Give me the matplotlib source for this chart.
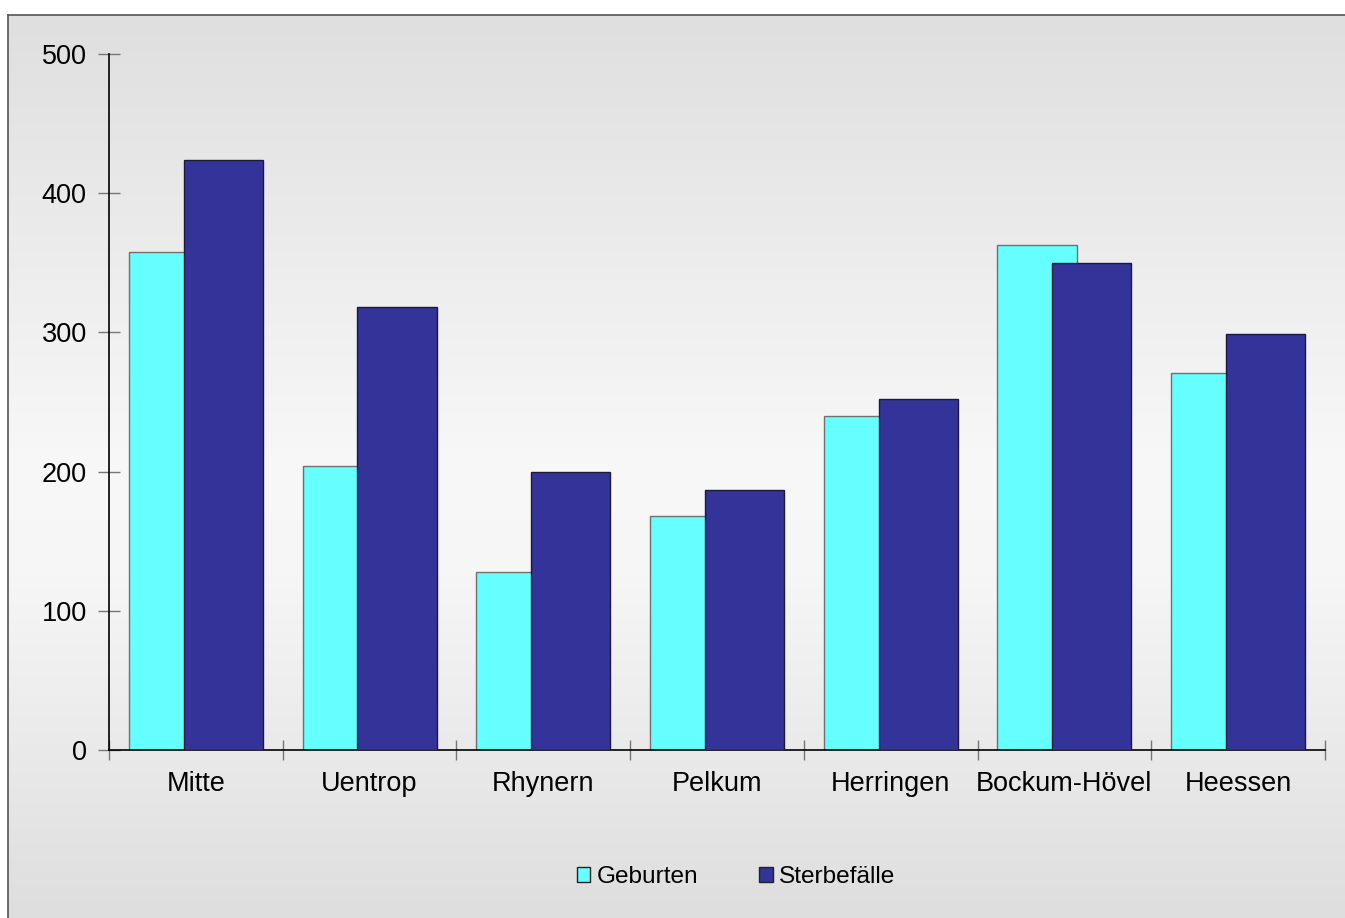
import numpy as np
import matplotlib
matplotlib.use("Agg")
import matplotlib.pyplot as plt
from matplotlib.colors import LinearSegmentedColormap
from matplotlib.lines import Line2D

categories = ["Mitte", "Uentrop", "Rhynern", "Pelkum", "Herringen", "Bockum-Hövel", "Heessen"]
geburten = [358, 204, 128, 168, 240, 363, 271]
sterbefaelle = [424, 318, 200, 187, 252, 350, 299]
yticks = [0, 100, 200, 300, 400, 500]

plt.rcParams['font.family'] = ['Liberation Sans', 'DejaVu Sans']

W, H = 1345, 918
fig = plt.figure(figsize=(W / 100, H / 100), dpi=100)
fig.patch.set_facecolor('white')

# background frame with vertical gradient
bg = fig.add_axes([8 / W, 0, 1 - 8 / W, 1 - 15 / H], zorder=0)
cmap = LinearSegmentedColormap.from_list(
    'g', [(0.0, '#dfdfdf'), (0.5, '#f8f8f8'), (0.62, '#f6f6f6'), (1.0, '#dedede')])
grad = np.linspace(0, 1, 256).reshape(-1, 1)
bg.imshow(grad, aspect='auto', cmap=cmap, extent=[0, 1, 0, 1], origin='upper')
bg.set_xlim(0, 1)
bg.set_ylim(0, 1)
bg.set_axis_off()
fig.add_artist(Line2D([8 / W, 8 / W], [0, 1 - 15 / H], color='#555555', lw=1.2))
fig.add_artist(Line2D([8 / W, 1], [1 - 15 / H, 1 - 15 / H], color='#555555', lw=1.2))

ax = fig.add_axes([109 / W, 1 - 750 / H, (1325 - 109) / W, (750 - 54) / H], zorder=1)
ax.patch.set_alpha(0)

x = np.arange(len(categories))
w = 0.455
off = 0.158
ax.bar(x - off, geburten, width=w, color='#66FFFF', edgecolor='#707070', linewidth=1.0,
       label='Geburten', zorder=2)
ax.bar(x + off, sterbefaelle, width=w, color='#333399', edgecolor='#1a1a3a', linewidth=1.0,
       label='Sterbefälle', zorder=3)

ax.set_xlim(-0.5, len(categories) - 0.5)
ax.set_ylim(0, 500)
ax.set_yticks(yticks)
ax.set_yticklabels([str(v) for v in yticks])
ax.set_xticks(np.arange(len(categories) + 1) - 0.5, minor=False)
ax.set_xticklabels([''] * (len(categories) + 1))
ax.set_xticks(x, minor=True)
ax.set_xticklabels(categories, minor=True)
ax.tick_params(axis='x', which='major', direction='inout', length=14, color='#777777', width=1)
ax.tick_params(axis='x', which='minor', length=0, labelsize=19.5, pad=15)
ax.tick_params(axis='y', direction='inout', length=16, color='#777777', width=1,
               labelsize=19.5, pad=8)

for s in ['top', 'right']:
    ax.spines[s].set_visible(False)
for s in ['left', 'bottom']:
    ax.spines[s].set_color('black')
    ax.spines[s].set_linewidth(1.2)

leg = fig.legend(loc='center', bbox_to_anchor=(736 / W, 1 - 877 / H), ncol=2,
                 frameon=False, fontsize=17.6, handlelength=0.55, handleheight=0.55,
                 handletextpad=0.25, columnspacing=2.5)
for h in leg.legend_handles:
    h.set_edgecolor('#222222')
    h.set_linewidth(1.0)

fig.savefig('out.png', dpi=100)
